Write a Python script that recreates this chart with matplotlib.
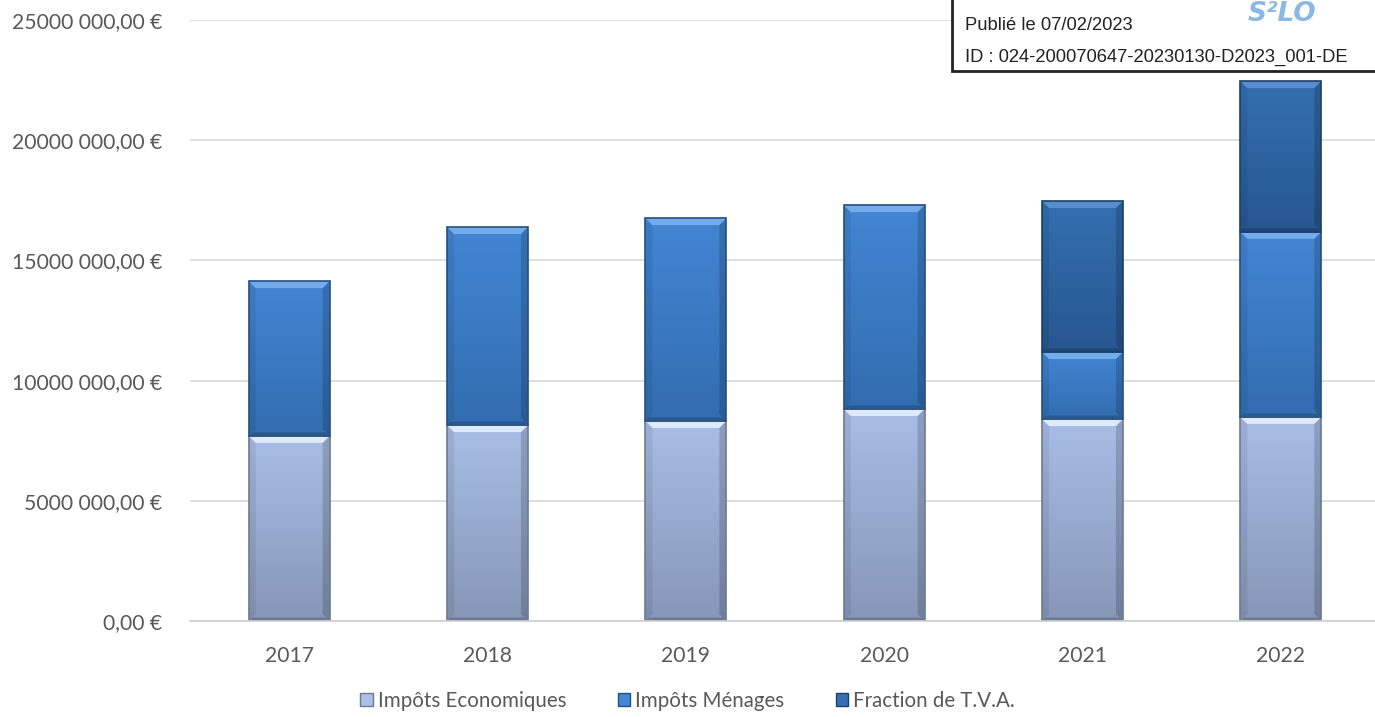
import numpy as np
import matplotlib
matplotlib.use("Agg")
import matplotlib.pyplot as plt
from matplotlib.patches import Rectangle, Patch, Polygon
from matplotlib.colors import LinearSegmentedColormap
from matplotlib.ticker import FuncFormatter

years = ["2017", "2018", "2019", "2020", "2021", "2022"]
impots_economiques = [7.70e6, 8.15e6, 8.32e6, 8.82e6, 8.40e6, 8.49e6]
impots_menages = [6.44e6, 8.24e6, 8.44e6, 8.48e6, 2.79e6, 7.70e6]
fraction_tva = [0.0, 0.0, 0.0, 0.0, 6.28e6, 6.27e6]
series_names = ["Impôts Economiques", "Impôts Ménages", "Fraction de T.V.A."]

# (top colour, bottom colour, edge colour, bevel highlight) for each series
palette = [
    ("#abc0e9", "#7f8fae", "#6d7a92", "#e8f2ff"),
    ("#4487d6", "#2f68a9", "#254f80", "#7db4f0"),
    ("#3571b2", "#24528a", "#1c3f69", "#5d93d0"),
]

plt.rcParams["font.family"] = ["Lato", "DejaVu Sans"]

fig = plt.figure(figsize=(13.75, 7.17), dpi=100)
ax = fig.add_axes([190 / 1375, 96 / 717, 1190 / 1375, 601 / 717])
ax.set_xlim(-0.5, 5.5)
ax.set_ylim(0, 25e6)

px_y = 25e6 / 601      # data units per pixel, vertical
px_x = 6.0 / 1190      # data units per pixel, horizontal

x = np.arange(len(years))
width = 0.408
bottoms = np.zeros(len(years))
for vals, (ctop, cbot, cedge, chi), name in zip(
        [impots_economiques, impots_menages, fraction_tva], palette, series_names):
    vals = np.array(vals)
    bars = ax.bar(x, vals, width, bottom=bottoms, color=cbot, edgecolor="none",
                  label=name, zorder=2)
    cmap = LinearSegmentedColormap.from_list("g", [cbot, ctop])
    for rect, v, b in zip(bars, vals, bottoms):
        if v <= 0:
            continue
        x0 = rect.get_x()
        x1 = x0 + rect.get_width()
        t = b + v
        # vertical shading
        grad = np.linspace(0.15, 0.95, 200).reshape(-1, 1)
        img = ax.imshow(np.hstack([grad, grad]), cmap=cmap, vmin=0, vmax=1.0,
                        extent=[x0, x1, b, t], origin="lower",
                        aspect="auto", zorder=2.1, interpolation="bilinear")
        img.set_clip_path(rect)
        # bevelled sides
        bx = 7 * px_x
        by = 7 * px_y
        ax.add_patch(Polygon([(x0, b), (x0 + bx, b + by), (x0 + bx, t - by), (x0, t)],
                             closed=True, fc="black", alpha=0.07, lw=0, zorder=2.2))
        ax.add_patch(Polygon([(x1, b), (x1 - bx, b + by), (x1 - bx, t - by), (x1, t)],
                             closed=True, fc="black", alpha=0.16, lw=0, zorder=2.2))
        ax.add_patch(Polygon([(x0, t), (x1, t), (x1 - bx, t - by), (x0 + bx, t - by)],
                             closed=True, fc=chi, alpha=0.85, lw=0, zorder=2.25))
        ax.add_patch(Polygon([(x0, b), (x1, b), (x1 - bx * 0.5, b + by * 0.5),
                              (x0 + bx * 0.5, b + by * 0.5)],
                             closed=True, fc="black", alpha=0.18, lw=0, zorder=2.25))
        ax.add_patch(Rectangle((x0, b), x1 - x0, v, fill=False, ec=cedge,
                               lw=1.2, zorder=2.3))
    bottoms = bottoms + vals

ax.set_xticks(x)
ax.set_xticklabels(years)
ax.set_yticks(np.arange(0, 25e6 + 1, 5e6))


def euro(v, pos):
    if v == 0:
        return "0,00 €"
    m = int(round(v / 1e6))
    return f"{m}000 000,00 €"


ax.yaxis.set_major_formatter(FuncFormatter(euro))
ax.tick_params(axis="both", length=0, labelsize=15.2, colors="#595959")
ax.tick_params(axis="x", pad=18)
ax.tick_params(axis="y", pad=20)
ax.grid(axis="y", color="#d9d9d9", lw=1.2, zorder=0)
for s in ["top", "right", "left"]:
    ax.spines[s].set_visible(False)
ax.spines["bottom"].set_color("#d0d0d0")
ax.spines["bottom"].set_linewidth(1.2)
ax.set_axisbelow(True)

handles = [Patch(facecolor=c[0], edgecolor=c[2]) for c in palette]
fig.legend(handles, series_names, loc="center", bbox_to_anchor=(0.5, 16 / 717),
           ncol=3, frameon=False, fontsize=14.8, handlelength=0.6,
           handleheight=0.6, handletextpad=0.25, columnspacing=2.5,
           labelcolor="#595959")

# publication stamp in the top-right corner
fig.patches.append(Rectangle((952 / 1375, 646 / 717), 0.5, 0.2,
                             transform=fig.transFigure, fc="white",
                             ec="#222222", lw=2, zorder=5))
fig.text(965 / 1375, 1 - 26 / 717, "Publié le 07/02/2023", family="Liberation Sans",
         fontsize=13.2, va="center", ha="left", color="#222222", zorder=6)
fig.text(965 / 1375, 1 - 57 / 717, "ID : 024-200070647-20230130-D2023_001-DE",
         family="Liberation Sans", fontsize=13.2, va="center", ha="left",
         color="#222222", zorder=6)
fig.text(1248 / 1375, 1 - 1 / 717, "S²LO", family="DejaVu Sans", fontsize=19,
         fontweight="bold", style="italic", color="#8ab8e6", va="top",
         ha="left", zorder=6)

fig.savefig("out.png", dpi=100)
